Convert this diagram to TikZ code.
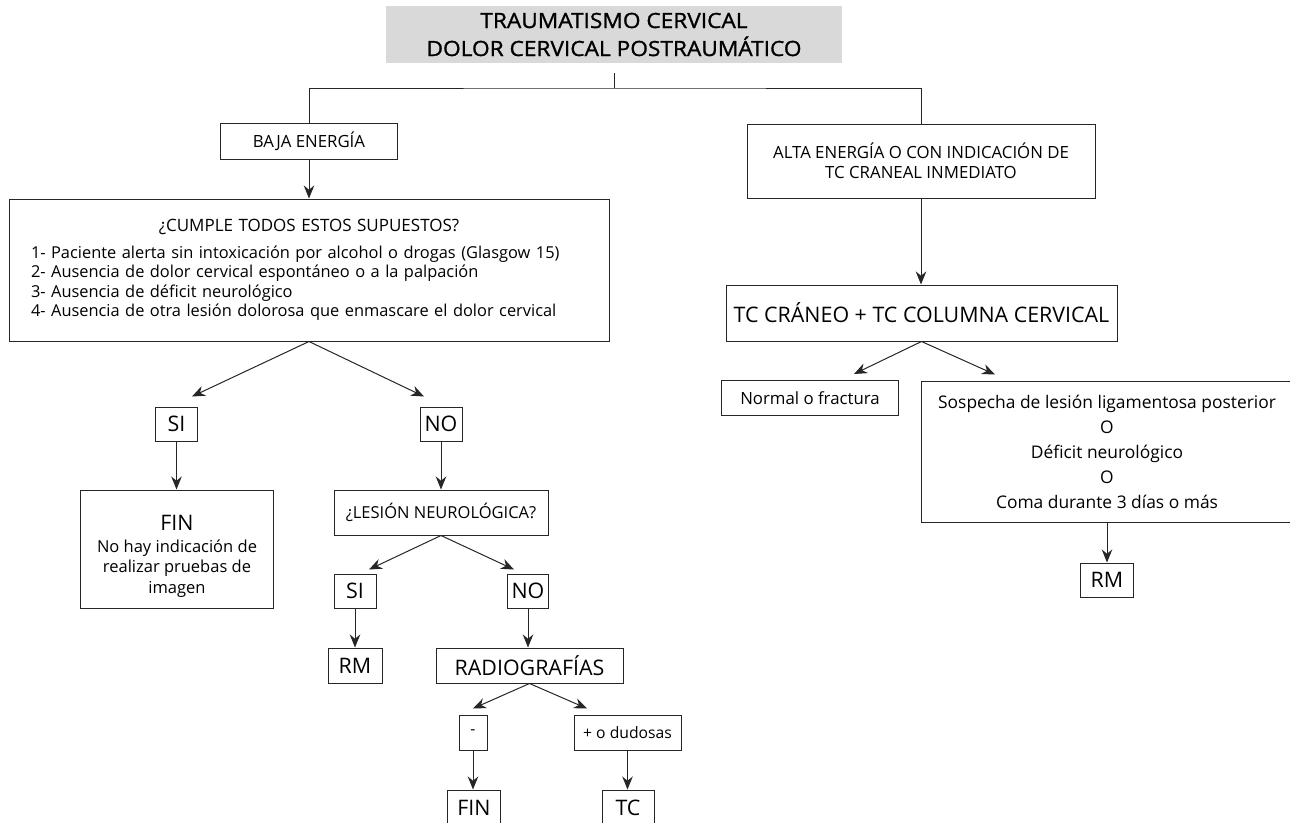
\documentclass[tikz,border=0pt]{standalone}
\usepackage{fontspec}
\setmainfont{Open Sans}
\newfontfamily\titlefont[FakeBold=1.2,FakeStretch=1.08]{Open Sans}
\usetikzlibrary{arrows.meta}

\begin{document}
\begin{tikzpicture}
[x=1pt, y=-1pt, line width=1pt, black!85,
    box/.style={draw=black!85, text=black, inner sep=0pt, align=center},
    arr/.style={-{Stealth[length=13pt,width=10.5pt]}},
    titletxt/.style={font=\titlefont\fontsize{21}{28}\selectfont},
    bigtxt/.style={font=\fontsize{21.4}{25}\selectfont},
    medtxt/.style={font=\fontsize{16.5}{20.5}\selectfont},
    smalltxt/.style={font=\fontsize{16.4}{19.5}\selectfont},
    tinytxt/.style={font=\fontsize{16.8}{19.5}\selectfont}]
    \clip (0,0) rectangle (1290,822);

    \node[titletxt, fill=black!15, text=black, align=center, minimum width=456, minimum height=57] (title) at (614,34.5)
        {TRAUMATISMO CERVICAL\\DOLOR CERVICAL POSTRAUMÁTICO};
    \coordinate (fork) at (614,88);

    \node[box, tinytxt, minimum width=177, minimum height=36] (baja) at (309,141) {BAJA ENERGÍA};
    \node[box, tinytxt, minimum width=348, minimum height=74] (alta) at (921,161)
        {ALTA ENERGÍA O CON INDICACIÓN DE\\TC CRANEAL INMEDIATO};
    \node[box, smalltxt, align=left, text width=556, minimum width=600, minimum height=142] (cumple) at (309,270)
        {\makebox[556pt]{\fontsize{17}{19.5}\selectfont ¿CUMPLE TODOS ESTOS SUPUESTOS?}\\[7pt]
        1- Paciente alerta sin intoxicación por alcohol o drogas (Glasgow 15)\\
        2- Ausencia de dolor cervical espontáneo o a la palpación\\
        3- Ausencia de déficit neurológico\\
        4- Ausencia de otra lesión dolorosa que enmascare el dolor cervical};
    \node[box, bigtxt, minimum width=391, minimum height=56] (tc) at (921.5,313) {TC CRÁNEO + TC COLUMNA CERVICAL};
    \node[box, font=\fontsize{16.8}{20}\selectfont, minimum width=177, minimum height=35] (normal) at (810,398) {Normal o fractura};
    \node[box, font=\fontsize{17.4}{25}\selectfont, minimum width=372, minimum height=141] (sospecha) at (1107,451.5)
        {Sospecha de lesión ligamentosa posterior\\O\\Déficit neurológico\\O\\Coma durante 3 días o más};
    \node[box, bigtxt, minimum width=53, minimum height=34] (rmder) at (1107,580) {RM};

    \node[box, bigtxt, minimum width=42, minimum height=34] (si) at (176.5,424) {SI};
    \node[box, bigtxt, minimum width=42, minimum height=34] (no) at (441,424) {NO};
    \node[box, medtxt, minimum width=193, minimum height=118] (fin) at (177,549)
        {\rule{0pt}{30pt}{\fontsize{21.4}{21}\selectfont FIN}\\[1pt]No hay indicación de\\realizar pruebas de\\imagen};
    \node[box, medtxt, minimum width=214, minimum height=45] (lesion) at (441,512.5) {¿LESIÓN NEUROLÓGICA?};
    \node[box, bigtxt, minimum width=42, minimum height=34] (silesion) at (355,591) {SI};
    \node[box, bigtxt, minimum width=41.5, minimum height=34] (nolesion) at (528,591) {NO};
    \node[box, bigtxt, minimum width=54, minimum height=35] (rmizq) at (355,665.5) {RM};
    \node[box, bigtxt, minimum width=187, minimum height=35] (radio) at (529.5,665.5) {RADIOGRAFÍAS};
    \node[box, font=\fontsize{15.7}{19}\selectfont, minimum width=28, minimum height=35] (neg) at (473,732.5) {-};
    \node[box, font=\fontsize{15.7}{19}\selectfont, minimum width=107, minimum height=35] (dudosas) at (627.5,732.5) {+ o dudosas};
    \node[box, bigtxt, minimum width=53, minimum height=35] (finrx) at (474,807.5) {FIN};
    \node[box, bigtxt, minimum width=52, minimum height=35] (tcrx) at (628,807.5) {TC};

    \draw[shorten <=9pt] (title.south) -- (fork);
    \draw (baja.north) |- (fork) -| (alta.north);
    \draw[arr] (baja.south) -- (cumple.north);
    \draw[arr] (alta.south) -- (alta.south |- tc.north);
    \draw[arr] (cumple.south) -- ([xshift=15.5pt,yshift=10pt]si.north);
    \draw[arr] (cumple.south) -- ([xshift=-17pt,yshift=10pt]no.north);
    \draw[arr] (si.south) -- (si.south |- fin.north);
    \draw[arr] (no.south) -- (lesion.north);
    \draw[arr] (lesion.south) -- ([xshift=14pt,yshift=4pt]silesion.north);
    \draw[arr] (lesion.south) -- ([xshift=-14pt,yshift=4pt]nolesion.north);
    \draw[arr] (silesion.south) -- (rmizq.north);
    \draw[arr] (nolesion.south) -- (nolesion.south |- radio.north);
    \draw[arr] (radio.south) -- ([yshift=6pt]neg.north);
    \draw[arr] (radio.south) -- ([xshift=-40.5pt,yshift=6pt]dudosas.north);
    \draw[arr] (neg.south) -- (neg.south |- finrx.north);
    \draw[arr] (dudosas.south) -- (dudosas.south |- tcrx.north);
    \draw[arr] (tc.south) -- ([xshift=44pt,yshift=6pt]normal.north);
    \draw[arr] (tc.south) -- ([xshift=-112pt,yshift=6pt]sospecha.north);
    \draw[arr] (sospecha.south) -- (rmder.north);
\end{tikzpicture}
\end{document}
